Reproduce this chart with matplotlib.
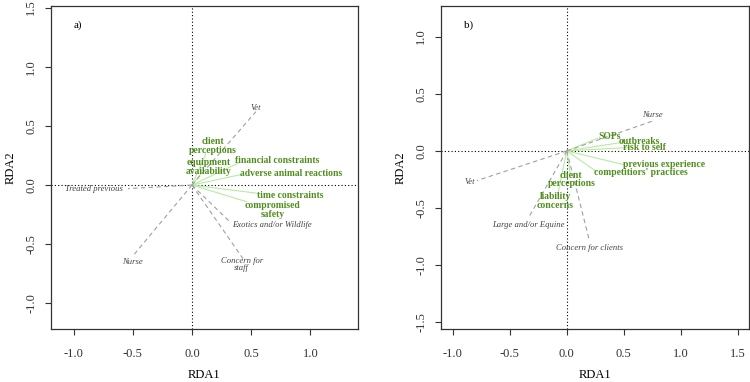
import matplotlib.pyplot as plt

plt.rcParams["font.family"] = ["Liberation Serif", "DejaVu Serif"]

# ---- panel a) ----
a_fac_names = ["Vet", "Nurse", "Treated previous", "Exotics and/or Wildlife", "Concern for\nstaff"]
a_fac_tip = [(0.54, 0.62), (-0.50, -0.60), (-0.54, -0.03), (0.32, -0.31), (0.43, -0.62)]
a_fac_lab = [(0.54, 0.65), (-0.50, -0.65), (-0.83, -0.03), (0.68, -0.34), (0.42, -0.67)]

a_vec_names = ["client\nperceptions", "equipment\navailability", "financial constraints",
               "adverse animal reactions", "time constraints", "compromised\nsafety"]
a_vec_tip = [(0.12, 0.27), (0.08, 0.10), (0.40, 0.19), (0.42, 0.09), (0.56, -0.07), (0.46, -0.14)]
a_vec_lab = [(0.18, 0.33), (0.14, 0.15), (0.72, 0.21), (0.84, 0.10), (0.83, -0.09), (0.68, -0.21)]

# ---- panel b) ----
b_fac_names = ["Nurse", "Vet", "Large and/or Equine", "Concern for clients"]
b_fac_tip = [(0.75, 0.26), (-0.79, -0.26), (-0.34, -0.59), (0.20, -0.79)]
b_fac_lab = [(0.75, 0.31), (-0.85, -0.27), (-0.34, -0.65), (0.20, -0.85)]

b_vec_names = ["SOPs", "outbreaks", "risk to self", "previous experience",
               "competitiors' practices", "client\nperceptions", "liability\nconcerns"]
b_vec_tip = [(0.27, 0.11), (0.52, 0.08), (0.55, 0.03), (0.50, -0.12), (0.26, -0.18),
             (0.03, -0.20), (-0.08, -0.38)]
b_vec_lab = [(0.38, 0.13), (0.64, 0.08), (0.68, 0.03), (0.85, -0.12), (0.65, -0.19),
             (0.04, -0.25), (-0.10, -0.44)]

GREEN = "#4e8f1c"
LGREEN = "#b8eaa4"
GRAY = "#444444"
DGRAY = "#a0a0a0"


def draw(ax, tag, fac_names, fac_tip, fac_lab, vec_names, vec_tip, vec_lab,
         xlim, ylim, xticks, yticks):
    ax.axhline(0, color="black", ls=(0, (1, 2)), lw=0.8)
    ax.axvline(0, color="black", ls=(0, (1, 2)), lw=0.8)
    for (x, y) in vec_tip:
        ax.plot([0, x], [0, y], color=LGREEN, lw=0.8)
    for (x, y) in fac_tip:
        ax.plot([0, x], [0, y], color=DGRAY, lw=0.8, ls=(0, (4, 3)))
    for name, (x, y) in zip(vec_names, vec_lab):
        ax.text(x, y, name, color=GREEN, fontsize=6.9, fontweight="bold",
                ha="center", va="center", linespacing=0.95)
    for name, (x, y) in zip(fac_names, fac_lab):
        ax.text(x, y, name, color=GRAY, fontsize=6.2, style="italic",
                ha="center", va="center", linespacing=0.9)
    ax.text(0.075, 0.94, tag, transform=ax.transAxes, fontsize=8, ha="left", va="center")
    ax.set_xlim(*xlim)
    ax.set_ylim(*ylim)
    ax.set_xticks(xticks)
    ax.set_yticks(yticks)
    ax.set_xticklabels([f"{t:.1f}" for t in xticks])
    ax.set_yticklabels([f"{t:.1f}" for t in yticks], rotation=90, va="center")
    ax.tick_params(direction="out", length=4, width=0.8, labelsize=9, colors="#333333")
    ax.tick_params(axis="x", pad=10)
    ax.tick_params(axis="y", pad=6)
    for s in ax.spines.values():
        s.set_color("#333333")
        s.set_linewidth(0.9)
    ax.set_xlabel("RDA1", fontsize=9, labelpad=6)
    ax.set_ylabel("RDA2", fontsize=9, labelpad=6)


fig = plt.figure(figsize=(7.5, 3.82), dpi=100)
ax1 = fig.add_axes([0.068, 0.139, 0.409, 0.846])
ax2 = fig.add_axes([0.588, 0.139, 0.410, 0.846])

draw(ax1, "a)", a_fac_names, a_fac_tip, a_fac_lab, a_vec_names, a_vec_tip, a_vec_lab,
     (-1.19, 1.40), (-1.215, 1.515), [-1.0, -0.5, 0.0, 0.5, 1.0], [-1.0, -0.5, 0.0, 0.5, 1.0, 1.5])
draw(ax2, "b)", b_fac_names, b_fac_tip, b_fac_lab, b_vec_names, b_vec_tip, b_vec_lab,
     (-1.105, 1.596), (-1.557, 1.27), [-1.0, -0.5, 0.0, 0.5, 1.0, 1.5], [-1.5, -1.0, -0.5, 0.0, 0.5, 1.0])

fig.savefig("out.png", dpi=100)
